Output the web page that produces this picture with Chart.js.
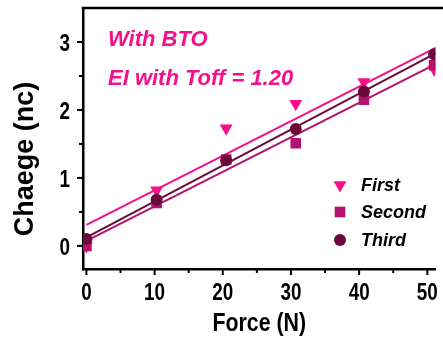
<!DOCTYPE html>
<html>
<head>
<meta charset="utf-8">
<script src="https://cdn.jsdelivr.net/npm/chart.js@4.4.1/dist/chart.umd.min.js"></script>
<style>
html,body{margin:0;padding:0;background:#fff;overflow:hidden;}
#wrap{width:443px;height:338px;position:relative;}
canvas{display:block;}
</style>
</head>
<body>
<div id="wrap"><canvas id="c" width="443" height="338"></canvas></div>
<script>
// ---- data ----
const forces = [0, 10.3, 20.5, 30.7, 40.7, 51.0];
const firstVals = [0.0, 0.82, 1.73, 2.09, 2.41, 2.60];
const secondVals = [0.0, 0.63, 1.27, 1.51, 2.15, 2.66];
const thirdVals = [0.10, 0.68, 1.26, 1.72, 2.27, 2.82];
const seriesNames = ['First', 'Second', 'Third'];
const xTickValues = [0, 5, 10, 15, 20, 25, 30, 35, 40, 45, 50];
const yTickValues = [0, 0.5, 1, 1.5, 2, 2.5, 3];
const annotationLines = ['With BTO', 'EI with Toff = 1.20'];
const xTitle = 'Force (N)';
const yTitle = 'Chaege (nc)';

const X_MIN = -0.5, X_MAX = 51.2, Y_MIN = -0.34, Y_MAX = 3.5;
const C_FIRST = '#F5108A', C_SECOND = '#B3136E', C_THIRD = '#6B0A3A';
const FONT = '"Liberation Sans", Arial, sans-serif';
const NARROW_X = 0.82;

function fit(xs, ys) {
  const n = xs.length;
  const mx = xs.reduce((a, b) => a + b, 0) / n;
  const my = ys.reduce((a, b) => a + b, 0) / n;
  let sxy = 0, sxx = 0;
  for (let i = 0; i < n; i++) { sxy += (xs[i] - mx) * (ys[i] - my); sxx += (xs[i] - mx) ** 2; }
  const m = sxy / sxx, b = my - m * mx;
  return [{x: 0, y: b}, {x: 53, y: b + m * 53}];
}
const pts = ys => forces.map((x, i) => ({x, y: ys[i]}));

const styles = [
  {color: C_FIRST, pointStyle: 'triangle', rotation: 180, radius: 7.5},
  {color: C_SECOND, pointStyle: 'rect', rotation: 0, radius: 7.5},
  {color: C_THIRD, pointStyle: 'circle', rotation: 0, radius: 6}
];
const allVals = [firstVals, secondVals, thirdVals];

const datasets = [];
allVals.forEach((v, i) => {
  datasets.push({
    label: seriesNames[i] + ' fit', data: fit(forces, v), showLine: true,
    borderColor: styles[i].color, borderWidth: 2, pointRadius: 0, order: 10 - i
  });
});
allVals.forEach((v, i) => {
  datasets.push({
    label: seriesNames[i], data: pts(v), showLine: false,
    pointStyle: styles[i].pointStyle, rotation: styles[i].rotation,
    pointRadius: styles[i].radius, backgroundColor: styles[i].color,
    borderColor: styles[i].color, borderWidth: 0, order: 2 - i
  });
});

function narrowText(ctx, text, x, y, align) {
  ctx.save();
  ctx.translate(x, y);
  ctx.scale(NARROW_X, 1);
  ctx.textAlign = align;
  ctx.fillText(text, 0, 0);
  ctx.restore();
}

const deco = {
  id: 'deco',
  afterDraw(chart) {
    const {ctx, chartArea} = chart;
    const xs = chart.scales.x, ys = chart.scales.y;
    ctx.save();
    // top frame line
    ctx.strokeStyle = '#000'; ctx.lineWidth = 2.5;
    ctx.beginPath(); ctx.moveTo(chartArea.left - 1.25, chartArea.top); ctx.lineTo(chart.width, chartArea.top); ctx.stroke();
    // tick marks
    ctx.lineWidth = 2;
    xTickValues.forEach(v => {
      const px = xs.getPixelForValue(v);
      const len = v % 10 === 0 ? 6 : 4;
      ctx.beginPath(); ctx.moveTo(px, chartArea.bottom); ctx.lineTo(px, chartArea.bottom + len); ctx.stroke();
    });
    yTickValues.forEach(v => {
      const py = ys.getPixelForValue(v);
      const len = Number.isInteger(v) ? 6 : 4;
      ctx.beginPath(); ctx.moveTo(chartArea.left, py); ctx.lineTo(chartArea.left - len, py); ctx.stroke();
    });
    // tick labels
    ctx.fillStyle = '#000';
    ctx.font = 'bold 23px ' + FONT;
    ctx.textBaseline = 'alphabetic';
    xTickValues.filter(v => v % 10 === 0).forEach(v => {
      narrowText(ctx, String(v), xs.getPixelForValue(v), 300, 'center');
    });
    ctx.textBaseline = 'middle';
    yTickValues.filter(v => Number.isInteger(v)).forEach(v => {
      narrowText(ctx, String(v), 70, ys.getPixelForValue(v) + 3, 'right');
    });
    // annotation
    ctx.fillStyle = C_FIRST;
    ctx.font = 'italic bold 22px ' + FONT;
    ctx.textBaseline = 'alphabetic'; ctx.textAlign = 'left';
    ctx.fillText(annotationLines[0], 108, 46);
    ctx.fillText(annotationLines[1], 108, 85);
    // legend
    ctx.font = 'italic bold 18px ' + FONT;
    const ly = [185, 212, 240];
    styles.forEach((s, i) => {
      ctx.fillStyle = s.color; ctx.strokeStyle = s.color; ctx.lineWidth = 0;
      Chart.helpers.drawPoint(ctx, {pointStyle: s.pointStyle, rotation: s.rotation, radius: s.radius, borderWidth: 0}, 340, ly[i]);
      ctx.fillStyle = '#000';
      ctx.textBaseline = 'middle'; ctx.textAlign = 'left';
      ctx.fillText(seriesNames[i], 361, ly[i] + 1);
    });
    // axis titles
    ctx.fillStyle = '#000';
    ctx.textBaseline = 'alphabetic';
    ctx.font = 'bold 26px ' + FONT;
    narrowText(ctx, xTitle, (chartArea.left + chartArea.right) / 2, 331, 'center');
    ctx.save();
    ctx.translate(33, 159); ctx.rotate(-Math.PI / 2);
    ctx.textAlign = 'center';
    ctx.font = 'bold 27px ' + FONT;
    ctx.fillText(yTitle, 0, 0);
    ctx.restore();
    ctx.restore();
  }
};

new Chart(document.getElementById('c'), {
  type: 'scatter',
  data: {datasets},
  plugins: [deco],
  options: {
    responsive: false, animation: false, devicePixelRatio: 1,
    layout: {padding: {top: 8, left: 0, right: 0, bottom: 0}},
    plugins: {legend: {display: false}, tooltip: {enabled: false}},
    scales: {
      x: {
        type: 'linear', min: X_MIN, max: X_MAX,
        afterBuildTicks: s => { s.ticks = xTickValues.map(v => ({value: v})); },
        afterFit: s => { s.height = 69; s.paddingLeft = 0; s.paddingRight = 0; },
        ticks: {display: false},
        grid: {display: false},
        border: {display: true, color: '#000', width: 2.5}
      },
      y: {
        type: 'linear', min: Y_MIN, max: Y_MAX,
        afterBuildTicks: s => { s.ticks = yTickValues.map(v => ({value: v})); },
        afterFit: s => { s.width = 83; s.paddingTop = 0; s.paddingBottom = 0; },
        ticks: {display: false},
        grid: {display: false},
        border: {display: true, color: '#000', width: 2.5}
      }
    }
  }
});
</script>
</body>
</html>
